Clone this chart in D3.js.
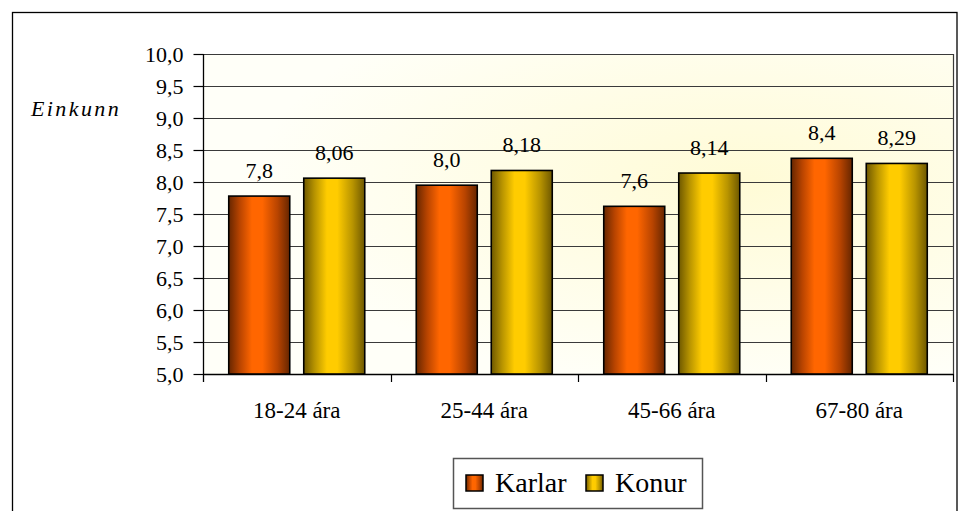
<!DOCTYPE html>
<html>
<head>
<meta charset="utf-8">
<script src="https://cdn.jsdelivr.net/npm/d3@7"></script>
</head>
<body style="margin:0;padding:0;background:#fff">
<svg id="fig" width="960" height="511" style="display:block"></svg>
<script>
const categories = ["18-24 ára", "25-44 ára", "45-66 ára", "67-80 ára"];
const seriesNames = ["Karlar", "Konur"];
const karlar = [7.78, 7.95, 7.62, 8.37];
const konur = [8.06, 8.18, 8.14, 8.29];
const yTicks = [5.0, 5.5, 6.0, 6.5, 7.0, 7.5, 8.0, 8.5, 9.0, 9.5, 10.0];
const yAxisTitle = "Einkunn";
const labelDecimals = [1, 2];

const FONT = "'Liberation Serif'";
const svg = d3.select("#fig");
const margin = {left: 203, right: 960 - 953, top: 54, bottom: 511 - 374};
const W = 960, H = 511;
const x0 = d3.scaleBand().domain(categories).range([margin.left, W - margin.right]);
const x1 = d3.scaleBand().domain(seriesNames).range([0, x0.bandwidth()])
  .paddingInner(0.1867).paddingOuter(0.3433);
const y = d3.scaleLinear().domain([5, 10]).range([H - margin.bottom, margin.top]);
const commaFmt = (v, d) => d3.format("." + d + "f")(v).replace(".", ",");
const txt = (sel, size) => sel.attr("font-family", "Liberation Serif")
  .style("font-family", FONT, "important").style("font-size", size + "px").attr("fill", "#000");

const defs = svg.append("defs");
const bg = defs.append("radialGradient").attr("id", "bg")
  .attr("cx", "72%").attr("cy", "40%").attr("r", "65%");
bg.append("stop").attr("offset", "0%").attr("stop-color", "#fffbd6");
bg.append("stop").attr("offset", "100%").attr("stop-color", "#fffff8");

function barGrad(id, dark, mid, bright) {
  const g = defs.append("linearGradient").attr("id", id)
    .attr("x1", "0%").attr("x2", "100%").attr("y1", "0%").attr("y2", "0%");
  [[0, dark], [0.18, mid], [0.38, bright], [0.55, bright], [0.8, mid], [1, dark]]
    .forEach(([o, c]) => g.append("stop").attr("offset", o * 100 + "%").attr("stop-color", c));
}
barGrad("gK", "#662600", "#b84400", "#ff6600");
barGrad("gF", "#6e5800", "#b89400", "#ffcc00");
const fills = {Karlar: "url(#gK)", Konur: "url(#gF)"};

// outer frame
svg.append("rect").attr("x", 12.5).attr("y", 12.5).attr("width", 944.5).attr("height", 520)
  .attr("fill", "#fff").attr("stroke", "#000").attr("stroke-width", 1.3);

// plot background
svg.append("rect").attr("x", margin.left).attr("y", margin.top)
  .attr("width", W - margin.right - margin.left).attr("height", y(5) - y(10))
  .attr("fill", "url(#bg)");

// gridlines
svg.append("g").selectAll("line").data(yTicks).join("line")
  .attr("x1", margin.left).attr("x2", W - margin.right)
  .attr("y1", d => Math.round(y(d)) + 0.5).attr("y2", d => Math.round(y(d)) + 0.5)
  .attr("stroke", "#3a3a3a").attr("stroke-width", 1.2);
svg.append("line").attr("x1", W - margin.right + 0.5).attr("x2", W - margin.right + 0.5)
  .attr("y1", y(10)).attr("y2", y(5)).attr("stroke", "#3a3a3a").attr("stroke-width", 1.2);

// y axis
const yAxis = d3.axisLeft(y).tickValues(yTicks).tickSize(10).tickPadding(10)
  .tickFormat(d => commaFmt(d, 1));
const gy = svg.append("g").attr("transform", `translate(${margin.left + 0.5},0)`).call(yAxis);
gy.attr("font-family", "Liberation Serif").attr("font-size", 22);
gy.select(".domain").remove();
gy.append("line").attr("x1", 0).attr("x2", 0).attr("y1", y(10)).attr("y2", y(5) + 8)
  .attr("stroke", "#000").attr("stroke-width", 1.3);
gy.selectAll(".tick line").attr("stroke", "#000").attr("stroke-width", 1.2);
txt(gy.selectAll(".tick text"), 22).attr("dy", "0.34em");

// x axis: ticks at category boundaries
const bounds = categories.slice(1).map(c => x0(c)).concat([W - margin.right]);
const gx = svg.append("g");
gx.append("line").attr("x1", margin.left).attr("x2", W - margin.right)
  .attr("y1", y(5) + 0.5).attr("y2", y(5) + 0.5).attr("stroke", "#000").attr("stroke-width", 1.3);
gx.selectAll("line.t").data(bounds).join("line").attr("class", "t")
  .attr("x1", d => Math.round(d) + 0.5).attr("x2", d => Math.round(d) + 0.5)
  .attr("y1", y(5)).attr("y2", y(5) + 8).attr("stroke", "#000").attr("stroke-width", 1.2);
txt(gx.selectAll("text").data(categories).join("text")
  .attr("x", d => x0(d) + x0.bandwidth() / 2).attr("y", 418)
  .attr("text-anchor", "middle").text(d => d), 23);

// bars
const rows = categories.map((c, i) => ({cat: c, vals: [karlar[i], konur[i]]}));
const groups = svg.append("g").selectAll("g").data(rows).join("g")
  .attr("transform", d => `translate(${x0(d.cat)},0)`);
groups.selectAll("rect").data(d => d.vals.map((v, j) => ({s: seriesNames[j], v}))).join("rect")
  .attr("x", d => x1(d.s)).attr("width", x1.bandwidth())
  .attr("y", d => y(d.v)).attr("height", d => y(5) - y(d.v))
  .attr("fill", d => fills[d.s]).attr("stroke", "#000").attr("stroke-width", 1.6);
txt(groups.selectAll("text").data(d => d.vals.map((v, j) => ({s: seriesNames[j], v, j}))).join("text")
  .attr("x", d => x1(d.s) + x1.bandwidth() / 2).attr("y", d => y(d.v) - 18.5)
  .attr("text-anchor", "middle")
  .text(d => commaFmt(d.v, labelDecimals[d.j])), 22);

// y title
txt(svg.append("text").attr("x", 31).attr("y", 116)
  .attr("letter-spacing", 2.4).text(yAxisTitle), 22).style("font-style", "italic");

// legend
const lg = svg.append("g");
lg.append("rect").attr("x", 453.5).attr("y", 458.5).attr("width", 249).attr("height", 50)
  .attr("fill", "#fff").attr("stroke", "#555").attr("stroke-width", 1.5);
const legendPos = [{sx: 466, tx: 495}, {sx: 586, tx: 615}];
seriesNames.forEach((s, i) => {
  lg.append("rect").attr("x", legendPos[i].sx).attr("y", 475).attr("width", 17).attr("height", 16)
    .attr("fill", fills[s]).attr("stroke", "#000").attr("stroke-width", 1.5);
  txt(lg.append("text").attr("x", legendPos[i].tx).attr("y", 492).text(s), 28);
});
</script>
</body>
</html>
